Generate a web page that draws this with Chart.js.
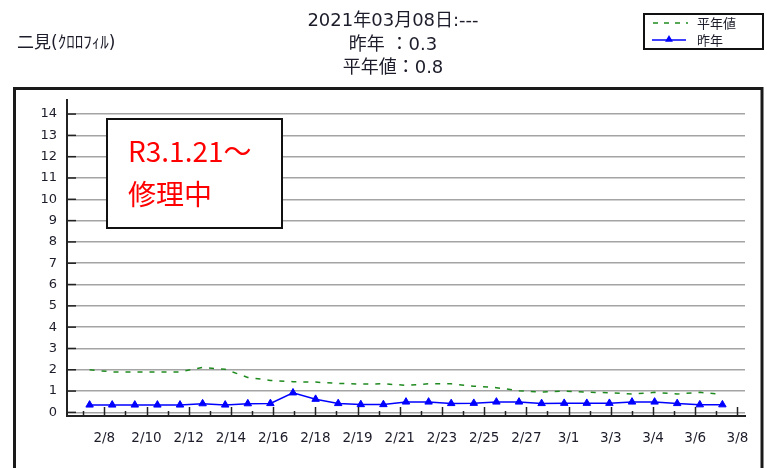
<!DOCTYPE html>
<html>
<head>
<meta charset="utf-8">
<script src="https://cdn.jsdelivr.net/npm/chart.js@4.4.1/dist/chart.umd.min.js"></script>
<style>
  html, body { margin: 0; background: #fff; }
  #wrap { width: 767px; height: 468px; }
</style>
</head>
<body>
<div id="wrap"><canvas id="chart" width="767" height="468"></canvas></div>
<script>
// --- data ---
const STATION = '二見(ｸﾛﾛﾌｨﾙ)';
const TITLE_LINES = ['2021年03月08日:---', '昨年 ：0.3', '平年値：0.8'];
const NOTE_LINES = ['R3.1.21～', '修理中'];
const SERIES_NAMES = ['平年値', '昨年'];
const X_LABELS = ['2/8', '2/10', '2/12', '2/14', '2/16', '2/18', '2/19', '2/21',
                  '2/23', '2/25', '2/27', '3/1', '3/3', '3/4', '3/6', '3/8'];
const Y_TICKS = [0, 1, 2, 3, 4, 5, 6, 7, 8, 9, 10, 11, 12, 13, 14];
const AVG = [2.0, 1.9, 1.9, 1.9, 1.9, 2.11, 2.02, 1.64, 1.5, 1.44, 1.42, 1.36, 1.33, 1.34, 1.27,
             1.34, 1.34, 1.23, 1.16, 1.02, 0.95, 1.0, 0.95, 0.92, 0.86, 0.94, 0.86, 0.94, 0.85];
const LAST_YEAR = [0.35, 0.35, 0.35, 0.35, 0.35, 0.41, 0.35, 0.41, 0.42, 0.92, 0.62, 0.42, 0.37, 0.37, 0.49,
                   0.49, 0.42, 0.43, 0.49, 0.49, 0.42, 0.43, 0.43, 0.43, 0.49, 0.49, 0.42, 0.36, 0.36];

const GREEN = '#1f8a1f';
const BLUE = '#0000ff';
const INK = '#1c1c2a';
const CJK = "'Noto Sans CJK JP'";

function triangle(ctx, x, y, r) {
  ctx.beginPath();
  ctx.moveTo(x, y - r);
  ctx.lineTo(x + r * 0.87, y + r * 0.5);
  ctx.lineTo(x - r * 0.87, y + r * 0.5);
  ctx.closePath();
  ctx.fill();
}

const decor = {
  id: 'decor',
  beforeDraw(chart) {
    const ctx = chart.ctx;
    ctx.save();
    ctx.fillStyle = '#fff';
    ctx.fillRect(0, 0, chart.width, chart.height);
    // outer frame
    ctx.strokeStyle = '#1a1a1a';
    ctx.lineWidth = 3;
    ctx.strokeRect(14.5, 88.5, 747.5, 400);
    ctx.restore();
  },
  afterDraw(chart) {
    const ctx = chart.ctx;
    const area = chart.chartArea;
    const xs = chart.scales.x2, ys = chart.scales.y;
    ctx.save();

    // axis tick marks (inside the plot)
    ctx.strokeStyle = '#222';
    ctx.lineWidth = 1.5;
    xs.ticks.forEach(t => {
      const px = Math.round(xs.getPixelForValue(t.value)) + 0.5;
      const len = Number.isInteger(t.value) ? 9 : 5;
      ctx.beginPath();
      ctx.moveTo(px, area.bottom);
      ctx.lineTo(px, area.bottom - len);
      ctx.stroke();
    });
    ys.ticks.forEach(t => {
      const py = ys.getPixelForValue(t.value);
      ctx.beginPath();
      ctx.moveTo(area.left, py);
      ctx.lineTo(area.left + 9, py);
      ctx.stroke();
    });

    // titles
    ctx.fillStyle = INK;
    ctx.textBaseline = 'middle';
    ctx.textAlign = 'center';
    ctx.font = `18px 'DejaVu Sans', ${CJK}`;
    [21, 45, 68].forEach((y, i) => ctx.fillText(TITLE_LINES[i], 393, y));
    ctx.textAlign = 'left';
    ctx.font = `17px 'DejaVu Sans', ${CJK}`;
    ctx.fillText(STATION, 17, 44);

    // legend
    ctx.strokeStyle = '#111';
    ctx.lineWidth = 2;
    ctx.strokeRect(644, 14, 119, 35);
    ctx.font = `13px ${CJK}`;
    ctx.strokeStyle = GREEN;
    ctx.lineWidth = 1.5;
    ctx.setLineDash([5, 6]);
    ctx.beginPath(); ctx.moveTo(653, 23); ctx.lineTo(688, 23); ctx.stroke();
    ctx.setLineDash([]);
    ctx.strokeStyle = BLUE;
    ctx.beginPath(); ctx.moveTo(652, 40); ctx.lineTo(686, 40); ctx.stroke();
    ctx.fillStyle = BLUE;
    triangle(ctx, 669, 39.5, 4.5);
    ctx.fillStyle = INK;
    ctx.fillText(SERIES_NAMES[0], 697, 23);
    ctx.fillText(SERIES_NAMES[1], 697, 40);

    // repair note box
    ctx.fillStyle = '#fff';
    ctx.fillRect(107, 119, 175, 109);
    ctx.strokeStyle = '#111';
    ctx.lineWidth = 2;
    ctx.strokeRect(107, 119, 175, 109);
    ctx.fillStyle = '#ff0000';
    ctx.textBaseline = 'alphabetic';
    ctx.font = `28px ${CJK}`;
    ctx.fillText(NOTE_LINES[0], 128, 162);
    ctx.fillText(NOTE_LINES[1], 128, 205);

    ctx.restore();
  }
};

new Chart(document.getElementById('chart'), {
  type: 'line',
  data: {
    datasets: [
      {
        label: SERIES_NAMES[1],
        data: LAST_YEAR.map((v, i) => ({ x: i, y: v })),
        borderColor: BLUE,
        backgroundColor: BLUE,
        borderWidth: 1.5,
        pointStyle: 'triangle',
        pointRadius: 4.3,
        pointBorderWidth: 1,
        tension: 0
      },
      {
        label: SERIES_NAMES[0],
        data: AVG.map((v, i) => ({ x: i, y: v })),
        borderColor: GREEN,
        borderWidth: 1.5,
        borderDash: [5, 7],
        pointRadius: 0,
        tension: 0
      }
    ]
  },
  options: {
    responsive: false,
    animation: false,
    devicePixelRatio: 1,
    layout: { padding: { left: 0, top: 100, right: 22, bottom: 0 } },
    plugins: { legend: { display: false }, title: { display: false }, tooltip: { enabled: false } },
    scales: {
      x: { type: 'linear', display: false, min: -1, max: 29 },
      x2: {
        type: 'linear',
        position: 'bottom',
        min: -0.884,
        max: 15.18,
        afterBuildTicks: s => {
          const t = [];
          for (let k = -1; k <= 2 * (X_LABELS.length - 1); k++) t.push({ value: k / 2 });
          s.ticks = t;
        },
        afterFit: s => { s.height = 52; s.paddingLeft = 0; s.paddingRight = 0; },
        grid: { drawOnChartArea: false, drawTicks: false },
        border: { display: true, color: '#222', width: 2 },
        ticks: {
          autoSkip: false,
          maxRotation: 0,
          padding: 14,
          color: INK,
          font: { family: 'DejaVu Sans', size: 13.5 },
          callback: v => (Number.isInteger(v) ? X_LABELS[v] : '')
        }
      },
      y: {
        min: -0.17,
        max: 14.66,
        afterBuildTicks: s => { s.ticks = Y_TICKS.map(v => ({ value: v })); },
        afterFit: s => { s.width = 67; s.paddingTop = 0; s.paddingBottom = 0; },
        grid: { color: '#a4a4a4', lineWidth: 1.5, drawTicks: false },
        border: { display: true, color: '#222', width: 2 },
        ticks: {
          padding: 10,
          color: INK,
          font: { family: 'DejaVu Sans', size: 13 }
        }
      }
    }
  },
  plugins: [decor]
});
</script>
</body>
</html>
